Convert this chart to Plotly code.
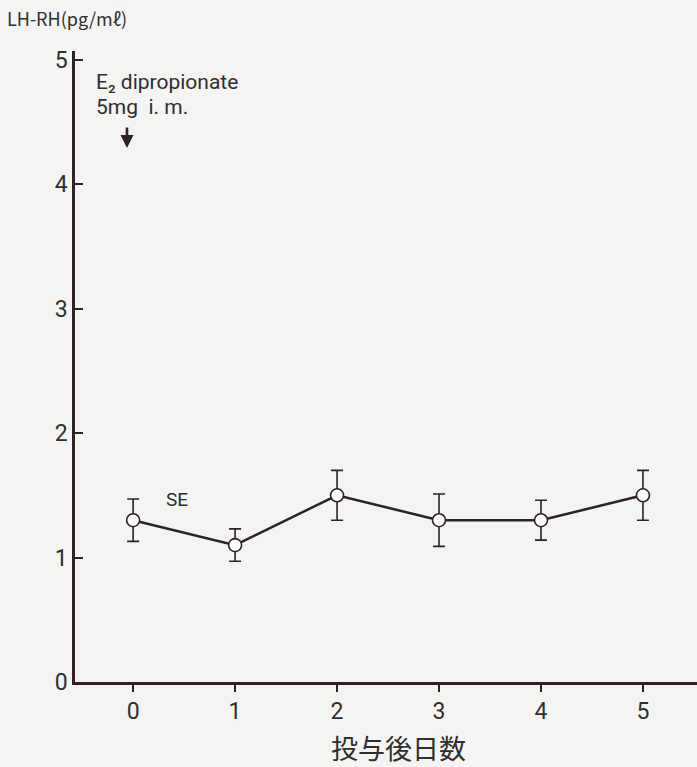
import plotly.graph_objects as go

days = [0, 1, 2, 3, 4, 5]
lhrh = [1.30, 1.10, 1.50, 1.30, 1.30, 1.50]
se = [0.17, 0.13, 0.20, 0.21, 0.16, 0.20]
x_ticks = [0, 1, 2, 3, 4, 5]
y_ticks = [0, 1, 2, 3, 4, 5]

ink = "#2e2224"
txt = "#2f2f2f"
bg = "#f4f4f2"
numfont = "Roboto"
jpfont = "Noto Sans CJK JP"

fig = go.Figure()
fig.add_trace(go.Scatter(
    x=days, y=lhrh, mode="lines+markers",
    line=dict(color=ink, width=2.5),
    marker=dict(symbol="circle", size=13, color="white", line=dict(color=ink, width=1.6)),
    error_y=dict(type="data", array=se, visible=True, color=ink, thickness=1.6, width=6),
    showlegend=False,
))

fig.update_layout(
    width=697, height=767,
    margin=dict(l=75, r=0, t=51, b=85),
    paper_bgcolor=bg, plot_bgcolor=bg,
    font=dict(family=numfont, color=txt),
    xaxis=dict(range=[-0.57, 5.53], tickvals=x_ticks, ticks="outside", ticklen=7,
               tickwidth=1.5, tickcolor=ink, showline=True, linecolor=ink, linewidth=2.5,
               showgrid=False, zeroline=False, tickfont=dict(size=23, family=numfont, color=txt)),
    yaxis=dict(range=[0, 5.07], tickvals=y_ticks, ticks="inside", ticklen=8,
               tickwidth=1.5, tickcolor=ink, showline=True, linecolor=ink, linewidth=2.5,
               showgrid=False, zeroline=False, tickfont=dict(size=23, family=numfont, color=txt)),
    annotations=[
        dict(text="LH-RH(pg/mℓ)", xref="paper", yref="paper", x=-0.113, y=1.053,
             xanchor="left", yanchor="middle", showarrow=False,
             font=dict(size=18, family=jpfont, color=txt)),
        dict(text="E₂ dipropionate", xref="x", yref="y", x=-0.38, y=4.82,
             xanchor="left", yanchor="middle", align="left", showarrow=False,
             font=dict(size=21, family=numfont, color=txt)),
        dict(text="5mg  i. m.", xref="x", yref="y", x=-0.38, y=4.62,
             xanchor="left", yanchor="middle", align="left", showarrow=False,
             font=dict(size=21, family=numfont, color=txt)),
        dict(text="", xref="x", yref="y", x=-0.06, y=4.29, ax=0, ay=-22,
             showarrow=True, arrowhead=2, arrowsize=1.0, arrowwidth=2.6, arrowcolor=ink),
        dict(text="SE", xref="x", yref="y", x=0.43, y=1.47, showarrow=False,
             xanchor="center", yanchor="middle",
             font=dict(size=19, family=numfont, color=txt)),
        dict(text="投与後日数", xref="paper", yref="paper", x=0.52, y=-0.104,
             xanchor="center", yanchor="middle", showarrow=False,
             font=dict(size=27, family=jpfont, color=txt)),
    ],
)

fig.write_html("out.html")
